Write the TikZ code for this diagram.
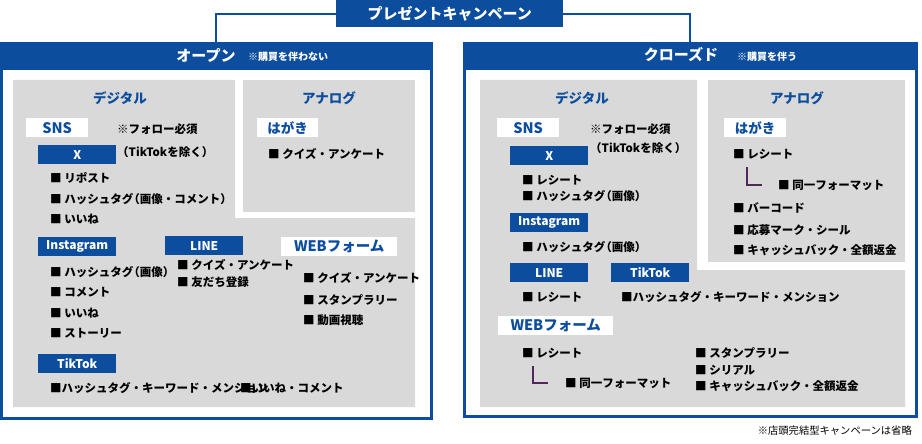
\documentclass[tikz,border=0pt]{standalone}
\usepackage{fontspec}
\setmainfont{Noto Sans CJK JP}
\definecolor{bblue}{RGB}{12,77,158}
\definecolor{gbg}{RGB}{217,217,217}
\definecolor{lpurple}{RGB}{80,38,92}
\newcommand\kakko[1]{\kern-5pt（#1）}
\tikzset{
  pnl/.style={draw=bblue, line width=2.5pt, fill=white, anchor=north west, inner sep=0},
  band/.style={fill=bblue, anchor=north west, inner sep=0, minimum height=28pt},
  btag/.style={fill=bblue, text=white, font=\bfseries\fontsize{12}{14}\selectfont, minimum width=78pt, minimum height=19pt, inner sep=0, anchor=north west},
  wtag/.style={fill=white, text=bblue, font=\bfseries\fontsize{14.5}{16}\selectfont, minimum height=19pt, inner sep=0, anchor=north west},
  item/.style={anchor=west, inner sep=0, font=\bfseries\fontsize{11.5}{13}\selectfont},
  head/.style={text=bblue, font=\bfseries\fontsize{13.5}{16}\selectfont, inner sep=0},
  note/.style={text=white, font=\bfseries\fontsize{10}{12}\selectfont, anchor=west, inner sep=0},
  link/.style={draw=bblue, line width=2pt},
  sub/.style={draw=lpurple, line width=2.5pt},
}
\begin{document}
\begin{tikzpicture}[x=1pt, y=-1pt]
	\useasboundingbox (0,0) rectangle (922,444);
	%
	\node[fill=bblue, text=white, font=\bfseries\fontsize{15}{17}\selectfont, minimum width=227pt, minimum height=27pt, inner sep=0, anchor=north west] (title) at (336,0) {プレゼントキャンペーン};
	\node[pnl, minimum width=430pt, minimum height=375pt] (open) at (0,42) {};
	\node[pnl, minimum width=452pt, minimum height=373pt] (closed) at (463,42) {};
	\draw[link] (title.west) -| (open.north);
	\draw[link] (title.east) -| (closed.north);
	\node[band, minimum width=430pt] (openband) at (0,42) {};
	\node[band, minimum width=452pt] (closedband) at (463,42) {};
	\node[text=white, font=\bfseries\fontsize{15}{17}\selectfont, inner sep=0] (openlbl) at (206,56) {オープン};
	\node[note] (opennote) at (248,57) {※購買を伴わない};
	\node[text=white, font=\bfseries\fontsize{15}{17}\selectfont, inner sep=0] (closedlbl) at (681,55) {クローズド};
	\node[note] (closednote) at (737,57) {※購買を伴う};
	%
	\fill[gbg] (13,80) -- (235,80) -- (235,218) -- (415,218) -- (415,407) -- (13,407) -- cycle;
	\fill[gbg] (243,80) rectangle (415,212);
	\fill[gbg] (480,80) -- (697,80) -- (697,270) -- (905,270) -- (905,407) -- (480,407) -- cycle;
	\fill[gbg] (708,80) rectangle (905,262);
	%
	\node[head] (odig) at (120,98) {デジタル};
	\node[head] (oana) at (329,98) {アナログ};
	\node[head] (cdig) at (582,98) {デジタル};
	\node[head] (cana) at (797,98) {アナログ};
	%
	\node[wtag, minimum width=62pt] (osns) at (26,118) {SNS};
	\node[item] (ofollow) at (117,129) {※フォロー必須};
	\node[item] (oexcl) at (117,152) {（TikTokを除く）};
	\node[btag] (ox) at (38,145) {X};
	\node[item] (ox1) at (50,178) {■ リポスト};
	\node[item] (ox2) at (50,199) {■ ハッシュタグ\kakko{画像・コメント}};
	\node[item] (ox3) at (50,219) {■ いいね};
	\node[wtag, minimum width=61pt, font=\bfseries\fontsize{13.5}{16}\selectfont] (ocard) at (257,118) {はがき};
	\node[item] (ocard1) at (268,154) {■ クイズ・アンケート};
	\node[btag] (oinsta) at (38,237) {Instagram};
	\node[item] (oinsta1) at (50,272) {■ ハッシュタグ\kakko{画像}};
	\node[item] (oinsta2) at (50,292) {■ コメント};
	\node[item] (oinsta3) at (50,313) {■ いいね};
	\node[item] (oinsta4) at (50,333) {■ ストーリー};
	\node[btag] (oline) at (165,236) {LINE};
	\node[item] (oline1) at (177,265) {■ クイズ・アンケート};
	\node[item] (oline2) at (177,282) {■ 友だち登録};
	\node[wtag, minimum width=116pt] (oweb) at (281,237) {WEBフォーム};
	\node[item] (oweb1) at (303,278) {■ クイズ・アンケート};
	\node[item] (oweb2) at (303,300) {■ スタンプラリー};
	\node[item] (oweb3) at (303,320) {■ 動画視聴};
	\node[btag] (otik) at (38,354) {TikTok};
	\node[item] (otik1) at (50,388) {■ハッシュタグ・キーワード・メンション};
	\node[item] (otik2) at (240,388) {■いいね・コメント};
	%
	\node[wtag, minimum width=62pt] (csns) at (497,118) {SNS};
	\node[item] (cfollow) at (590,129) {※フォロー必須};
	\node[item] (cexcl) at (590,148) {（TikTokを除く）};
	\node[btag] (cx) at (510,146) {X};
	\node[item] (cx1) at (522,180) {■ レシート};
	\node[item] (cx2) at (522,196) {■ ハッシュタグ\kakko{画像}};
	\node[btag] (cinsta) at (510,213) {Instagram};
	\node[item] (cinsta1) at (522,247) {■ ハッシュタグ\kakko{画像}};
	\node[btag] (cline) at (510,263) {LINE};
	\node[item] (cline1) at (522,297) {■ レシート};
	\node[btag] (ctik) at (611,263) {TikTok};
	\node[item] (ctik1) at (621,297) {■ハッシュタグ・キーワード・メンション};
	\node[wtag, minimum width=115pt] (cweb) at (498,316) {WEBフォーム};
	\node[item] (cweb1) at (522,353) {■ レシート};
	\node[item] (cweb2) at (565,383) {■ 同一フォーマット};
	\node[item] (cweb3) at (695,353) {■ スタンプラリー};
	\node[item] (cweb4) at (695,370) {■ シリアル};
	\node[item] (cweb5) at (695,386) {■ キャッシュバック・全額返金};
	\draw[sub] ([xshift=11pt,yshift=-8pt]cweb1.south west) |- ([xshift=-17pt]cweb2.west);
	%
	\node[wtag, minimum width=62pt, font=\bfseries\fontsize{13.5}{16}\selectfont] (ccard) at (724,118) {はがき};
	\node[item] (ccard1) at (733,154) {■ レシート};
	\node[item] (ccard2) at (778,185) {■ 同一フォーマット};
	\node[item] (ccard3) at (733,208) {■ バーコード};
	\node[item] (ccard4) at (733,230) {■ 応募マーク・シール};
	\node[item] (ccard5) at (733,250) {■ キャッシュバック・全額返金};
	\draw[sub] ([xshift=14pt,yshift=-8pt]ccard1.south west) |- ([xshift=-16pt]ccard2.west);
	%
	\node[anchor=east, inner sep=0, font=\fontsize{10.3}{12}\selectfont] (foot) at (912,431) {※店頭完結型キャンペーンは省略};
\end{tikzpicture}
\end{document}
